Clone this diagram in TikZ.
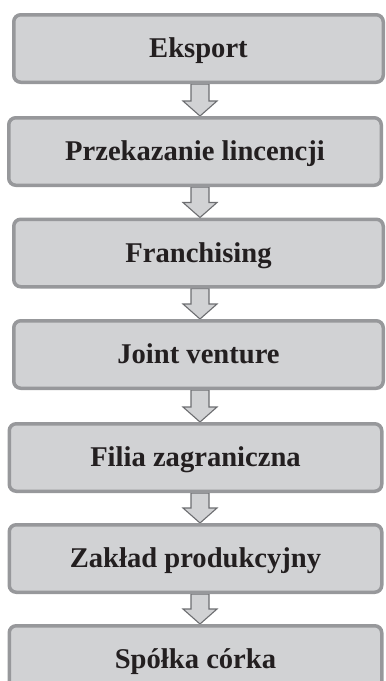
\documentclass[tikz,border=0pt]{standalone}
\usepackage{fontspec}
\setmainfont{Liberation Serif}
\usepackage{tikz}
\usetikzlibrary{calc, backgrounds}

\definecolor{boxfill}{HTML}{D1D2D4}
\definecolor{boxline}{HTML}{97989B}
\definecolor{arrowline}{HTML}{6D6E71}
\definecolor{labeltext}{HTML}{231F20}

\tikzset{
  stage/.style={draw=boxline, line width=3.5pt, fill=boxfill, rounded corners=7pt,
    minimum height=67.5pt, inner sep=0pt, text=labeltext,
    font=\fontsize{28.6}{34}\selectfont\bfseries, text height=18.8pt, text depth=0pt},
  widestage/.style={stage, minimum width=372.5pt},
  narrowstage/.style={stage, minimum width=369.5pt},
  steparrow/.style={draw=arrowline, fill=boxfill, line width=1.1pt, line join=miter}
}

% hollow block arrow from one box down to the next
\newcommand{\flowarrow}[2]{%
  \path[steparrow] let \p1=(#1.south), \p2=(#2.north) in
    (191pt,\y1) -- (191pt,\y2+15pt) -- (183pt,\y2+15pt) -- (200pt,\y2)
    -- (217pt,\y2+15pt) -- (209pt,\y2+15pt) -- (209pt,\y1) -- cycle;}

\begin{document}
\begin{tikzpicture}[x=1pt, y=-1pt]
\useasboundingbox (0,0) rectangle (386,681);
\clip (0,0) rectangle (386,681);

% Stages
\node[narrowstage] (eksport) at (198.5,48.5) {Eksport};
\node[widestage] (licencja) at (195,151.5) {Przekazanie lincencji};
\node[narrowstage] (franchising) at (198.5,253) {Franchising};
\node[narrowstage] (joint) at (198.5,354.5) {Joint venture};
\node[widestage] (filia) at (195.5,457.5) {Filia zagraniczna};
\node[widestage] (zaklad) at (195.5,558.5) {Zakład produkcyjny};
\node[widestage] (corka) at (195.5,659.5) {Spółka córka};

% Arrows
\begin{scope}[on background layer]
\flowarrow{eksport}{licencja}
\flowarrow{licencja}{franchising}
\flowarrow{franchising}{joint}
\flowarrow{joint}{filia}
\flowarrow{filia}{zaklad}
\flowarrow{zaklad}{corka}
\end{scope}
\end{tikzpicture}
\end{document}
